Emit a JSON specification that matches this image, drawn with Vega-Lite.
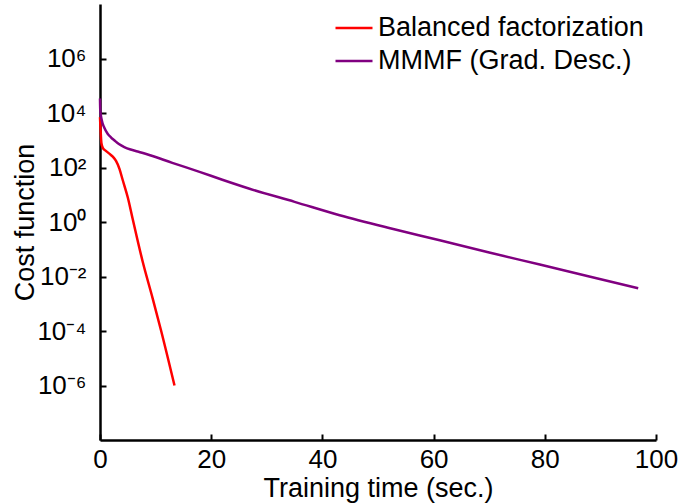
{
  "$schema": "https://vega.github.io/schema/vega-lite/v6.json",
  "width": 556,
  "height": 436,
  "autosize": {"type": "none"},
  "padding": {"left": 100, "top": 4, "right": 24, "bottom": 64},
  "background": "white",
  "config": {
    "view": {"stroke": null},
    "font": "Liberation Sans",
    "axis": {
      "grid": false,
      "domainColor": "black",
      "domainWidth": 2.5,
      "tickColor": "black",
      "tickWidth": 2,
      "tickSize": -6,
      "labelFont": "Liberation Sans",
      "labelFontSize": 26,
      "labelColor": "black",
      "labelFlush": false,
      "titleFont": "Liberation Sans",
      "titleFontSize": 27,
      "titleFontWeight": "normal",
      "titleColor": "black"
    },
    "legend": {
      "labelFont": "Liberation Sans",
      "labelFontSize": 27,
      "labelColor": "black",
      "labelLimit": 0
    }
  },
  "data": {
    "values": [
      {"method": "Balanced factorization", "time": 0, "cost": 7079},
      {"method": "Balanced factorization", "time": 0.1, "cost": 2512},
      {"method": "Balanced factorization", "time": 0.25, "cost": 794},
      {"method": "Balanced factorization", "time": 0.5, "cost": 525},
      {"method": "Balanced factorization", "time": 1.0, "cost": 417},
      {"method": "Balanced factorization", "time": 1.67, "cost": 324},
      {"method": "Balanced factorization", "time": 2.3, "cost": 251},
      {"method": "Balanced factorization", "time": 2.88, "cost": 174},
      {"method": "Balanced factorization", "time": 3.5, "cost": 89.1},
      {"method": "Balanced factorization", "time": 4.07, "cost": 35.5},
      {"method": "Balanced factorization", "time": 5.0, "cost": 7.94},
      {"method": "Balanced factorization", "time": 5.87, "cost": 1.32},
      {"method": "Balanced factorization", "time": 7.67, "cost": 0.0355},
      {"method": "Balanced factorization", "time": 9.47, "cost": 0.00158},
      {"method": "Balanced factorization", "time": 10.97, "cost": 0.000107},
      {"method": "Balanced factorization", "time": 13.4, "cost": 0.000001},
      {"method": "MMMF (Grad. Desc.)", "time": 0, "cost": 33884},
      {"method": "MMMF (Grad. Desc.)", "time": 0.05, "cost": 12589},
      {"method": "MMMF (Grad. Desc.)", "time": 0.3, "cost": 5623},
      {"method": "MMMF (Grad. Desc.)", "time": 0.8, "cost": 2818},
      {"method": "MMMF (Grad. Desc.)", "time": 1.37, "cost": 1738},
      {"method": "MMMF (Grad. Desc.)", "time": 2.0, "cost": 1259},
      {"method": "MMMF (Grad. Desc.)", "time": 2.57, "cost": 1000},
      {"method": "MMMF (Grad. Desc.)", "time": 3.4, "cost": 724},
      {"method": "MMMF (Grad. Desc.)", "time": 4.37, "cost": 562},
      {"method": "MMMF (Grad. Desc.)", "time": 5.5, "cost": 457},
      {"method": "MMMF (Grad. Desc.)", "time": 6.77, "cost": 389},
      {"method": "MMMF (Grad. Desc.)", "time": 9.0, "cost": 282},
      {"method": "MMMF (Grad. Desc.)", "time": 13, "cost": 148},
      {"method": "MMMF (Grad. Desc.)", "time": 17.9, "cost": 69.2},
      {"method": "MMMF (Grad. Desc.)", "time": 22, "cost": 35.5},
      {"method": "MMMF (Grad. Desc.)", "time": 26.9, "cost": 16.6},
      {"method": "MMMF (Grad. Desc.)", "time": 35, "cost": 5.5},
      {"method": "MMMF (Grad. Desc.)", "time": 43.1, "cost": 1.78},
      {"method": "MMMF (Grad. Desc.)", "time": 52, "cost": 0.603},
      {"method": "MMMF (Grad. Desc.)", "time": 61.1, "cost": 0.214},
      {"method": "MMMF (Grad. Desc.)", "time": 70, "cost": 0.0759},
      {"method": "MMMF (Grad. Desc.)", "time": 79.1, "cost": 0.0275},
      {"method": "MMMF (Grad. Desc.)", "time": 88, "cost": 0.01},
      {"method": "MMMF (Grad. Desc.)", "time": 96.8, "cost": 0.00372}
    ]
  },
  "mark": {"type": "line", "strokeWidth": 2.5, "interpolate": "monotone"},
  "encoding": {
    "x": {
      "field": "time",
      "type": "quantitative",
      "scale": {"domain": [0, 100], "nice": false, "zero": false},
      "axis": {
        "title": "Training time (sec.)",
        "values": [0, 20, 40, 60, 80, 100],
        "labelPadding": 12,
        "titlePadding": 3
      }
    },
    "y": {
      "field": "cost",
      "type": "quantitative",
      "scale": {"type": "log", "domain": [1e-8, 1e8], "nice": false},
      "axis": {
        "title": "Cost function",
        "values": [1e-6, 1e-4, 1e-2, 1, 100, 10000, 1000000],
        "labelExpr": "'10' + replace(replace(replace(replace(replace(replace('' + round(log(datum.value) / LN10), '-', '⁻'), '0', '⁰'), '2', '²'), '4', '⁴'), '6', '⁶'), '8', '⁸')",
        "labelPadding": 20,
        "titlePadding": -3
      }
    },
    "color": {
      "field": "method",
      "type": "nominal",
      "scale": {
        "domain": ["Balanced factorization", "MMMF (Grad. Desc.)"],
        "range": ["#ff0000", "#800080"]
      },
      "legend": {
        "title": null,
        "orient": "none",
        "legendX": 234,
        "legendY": 4,
        "symbolType": "stroke",
        "symbolSize": 1369,
        "symbolStrokeWidth": 2.5,
        "labelOffset": 4,
        "rowPadding": -3,
        "padding": 0
      }
    }
  }
}
